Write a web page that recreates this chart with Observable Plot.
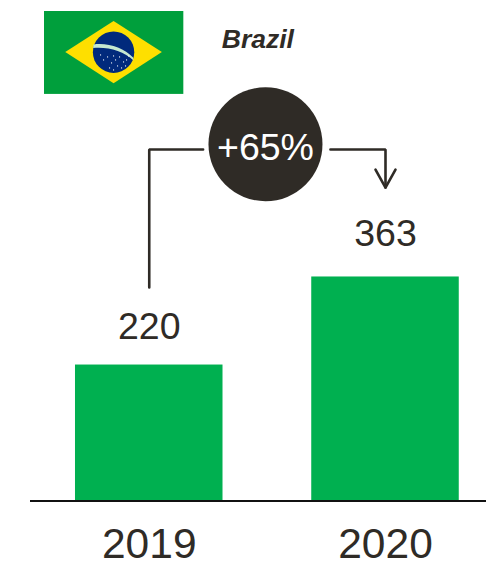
<!DOCTYPE html>
<html>
<head>
<meta charset="utf-8">
<title>Brazil</title>
<script src="https://cdn.jsdelivr.net/npm/d3@7"></script>
<script src="https://cdn.jsdelivr.net/npm/@observablehq/plot@0.6"></script>
<style>
  html, body { margin: 0; padding: 0; background: #fff; }
  svg { display: block; }
</style>
</head>
<body>
<div id="chart"></div>
<script>
const country = "Brazil";
const years = [2019, 2020];
const values = [220, 363];
const labelLevels = [281, 432];
const change = "+65%";
const barHalfWidth = 0.3122;

// Bracket running from the 2019 bar to the 2020 bar, broken by the badge
const bracketLeftX = [2019, 2019, 2019.228];
const bracketLeftY = [346, 570, 570];
const bracketRightX = [2019.767, 2020, 2020];
const bracketRightY = [570, 570, 508];
const arrowHeadX = [2019.9577, 2020, 2020.0423];
const arrowHeadY = [537.5, 508, 537.5];

const ink = "#2f2b26";
const barColor = "#00b050";
const font = "'Liberation Sans', Arial, sans-serif";

const pairs = (xs, ys) => xs.map((x, i) => ({x, y: ys[i]}));
const bars = years.map((year, i) => ({year, value: values[i], level: labelLevels[i]}));

// Small flag emblem, kept as a self-contained vector icon
const stars = [[104,60],[108,57],[112,63],[116,60],[120,57],[124,62],[127,60],[118,66],[122,68],[110,68],[114,56],[101,55],[129,56],[114,70],[126,66]];
const flag = `<svg xmlns="http://www.w3.org/2000/svg" width="140" height="83" viewBox="44 11 140 83">
<rect x="44" y="11" width="140" height="83" fill="#009f3c"/>
<path d="M65.7 52.2L114 21L162.3 52.2L114 83.3Z" fill="#fedf00"/>
<circle cx="114" cy="52.3" r="20.7" fill="#012a7c"/>
<path d="M94 44.5C108 42.5 124 47.5 133.5 57.5L134 60.5C124 51 108 46.5 93.6 48Z" fill="#c5e8d0"/>
${stars.map(([x, y]) => `<circle cx="${x}" cy="${y}" r="0.6" fill="#fff"/>`).join("")}
</svg>`;
const flagHref = "data:image/svg+xml;charset=utf-8," + encodeURIComponent(flag);

const chart = Plot.plot({
  width: 486,
  height: 562,
  marginLeft: 30,
  marginRight: 0,
  marginTop: 0,
  marginBottom: 62,
  style: {background: "#fff", fontFamily: font},
  x: {domain: [2018.4974, 2020.4275], label: null},
  y: {domain: [0, 812], axis: null, label: null},
  marks: [
    Plot.rect(bars, {
      x1: d => d.year - barHalfWidth,
      x2: d => d.year + barHalfWidth,
      y1: 0,
      y2: "value",
      fill: barColor
    }),
    Plot.ruleY([0], {stroke: "#111", strokeWidth: 2, dy: 0.5}),
    Plot.axisX({
      ticks: years,
      tickFormat: "d",
      tickSize: 0,
      tickPadding: 27,
      fontSize: 42.5,
      fill: ink,
      label: null,
      fontFamily: font
    }),
    Plot.text(bars, {
      x: "year",
      y: "level",
      text: d => String(d.value),
      fontSize: 37.5,
      fill: ink,
      fontFamily: font
    }),
    Plot.line(pairs(bracketLeftX, bracketLeftY), {x: "x", y: "y", stroke: ink, strokeWidth: 2.6, strokeLinejoin: "miter", curve: "linear"}),
    Plot.line(pairs(bracketRightX, bracketRightY), {x: "x", y: "y", stroke: ink, strokeWidth: 2.6, strokeLinejoin: "miter", curve: "linear"}),
    Plot.line(pairs(arrowHeadX, arrowHeadY), {x: "x", y: "y", stroke: ink, strokeWidth: 2.6, strokeLinejoin: "miter", curve: "linear"}),
    Plot.dot([{x: 2019.492, y: 578.5}], {x: "x", y: "y", r: 57, fill: ink}),
    Plot.text([change], {
      x: [2019.492],
      y: [573],
      text: d => d,
      fontSize: 37.5,
      fill: "#fff",
      fontFamily: font
    }),
    Plot.image([{x: 2018.849, y: 727.7}], {x: "x", y: "y", src: () => flagHref, width: 140, height: 83}),
    Plot.text([country], {
      x: [2019.307],
      y: [748],
      text: d => d,
      textAnchor: "start",
      fontSize: 26.5,
      fontWeight: "bold",
      fontStyle: "italic",
      fill: ink,
      fontFamily: font
    })
  ]
});
document.getElementById("chart").append(chart);
</script>
</body>
</html>
